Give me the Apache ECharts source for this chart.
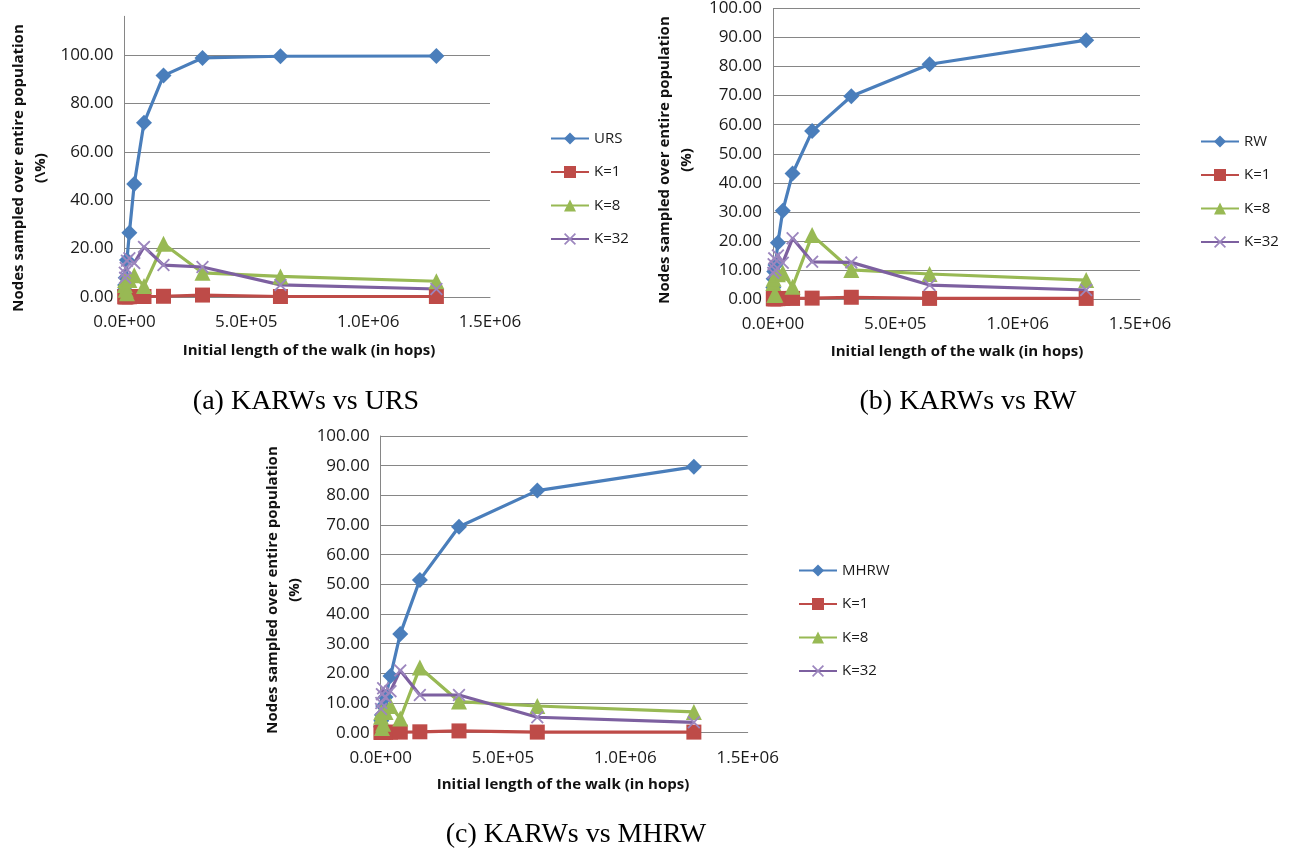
<!DOCTYPE html>
<html><head><meta charset="utf-8">
<script src="https://cdn.jsdelivr.net/npm/echarts@6/dist/echarts.min.js"></script>
<style>html,body{margin:0;padding:0;background:#fff;}#c{width:1290px;height:852px;}</style>
</head><body><div id="c"></div>
<script>
// ---- data ----
const walkLengths = [1250, 2500, 5000, 10000, 20000, 40000, 80000, 160000, 320000, 640000, 1280000];

// panel (a) KARWs vs URS
const ursA  = [3, 5, 8, 15.3, 26.5, 46.7, 72, 91.5, 98.8, 99.5, 99.6];
const k1A   = [0.1, 0.1, 0.1, 0.1, 0.1, 0.2, 0.2, 0.3, 0.8, 0.2, 0.2];
const k8A   = [5, 7, 3, 1.5, 7, 9, 4.5, 22, 10, 8.5, 6.5];
const k32A  = [10, 8, 12, 15, 16, 14, 20.7, 13.2, 12.4, 5, 3.3];

// panel (b) KARWs vs RW
const rwB   = [4, 7, 9.5, 11.7, 19.4, 30.4, 43.2, 57.8, 69.8, 80.8, 89.1];
const k1B   = [0.1, 0.1, 0.1, 0.1, 0.1, 0.2, 0.2, 0.3, 0.6, 0.2, 0.2];
const k8B   = [5.5, 7, 1.4, 1.5, 8.5, 9, 4.2, 22, 10, 8.6, 6.5];
const k32B  = [9, 12, 14, 10, 15, 12.5, 20.9, 12.8, 12.6, 4.8, 3.1];

// panel (c) KARWs vs MHRW
const mhrwC = [2, 4, 6, 9, 12, 19.1, 33.3, 51.5, 69.4, 81.6, 89.6];
const k1C   = [0.1, 0.1, 0.1, 0.1, 0.1, 0.2, 0.2, 0.3, 0.6, 0.2, 0.2];
const k8C   = [5.4, 7, 1.6, 3, 7, 9, 4.8, 22, 10.5, 9, 7];
const k32C  = [8, 10, 13, 15, 12, 14, 21, 12.7, 12.7, 5.2, 3.5];

const xTicks = [0, 500000, 1000000, 1500000];
const captions = ['(a) KARWs vs URS', '(b) KARWs vs RW', '(c) KARWs vs MHRW'];
const yTitle = 'Nodes sampled over entire population';
const xTitle = 'Initial length of the walk (in hops)';

// ---- styling ----
const C = {blue:'#4A7EBB', red:'#BE4B48', green:'#98B954', purple:'#7D60A0'};
const FONT = '"Open Sans", "Liberation Sans", sans-serif';
const CROSS = 'path://M0,1 L1,0 L5,4 L9,0 L10,1 L6,5 L10,9 L9,10 L5,6 L1,10 L0,9 L4,5 Z';

function sci(v){
  if (v === 0) return '0.0E+00';
  const e = Math.floor(Math.log10(v) + 1e-9);
  const m = v / Math.pow(10, e);
  return m.toFixed(1) + 'E+' + String(e).padStart(2, '0');
}
function pts(arr){ return walkLengths.map((x, i) => [x, arr[i]]); }

const grids = [
  {left:124.5, top:16.3, width:365.5, height:280.7},
  {left:773, top:8.3, width:367, height:290.7},
  {left:380.7, top:436, width:367, height:296.7}
];
const yMax = [116, 100, 100];
const yInt = [20, 10, 10];

const xAxes = grids.map((g, i) => ({
  type:'value', gridIndex:i, min:0, max:1500000, interval:500000,
  axisLine:{show:true, lineStyle:{color:'#868686', width:1}},
  axisTick:{show:false}, splitLine:{show:false},
  axisLabel:{formatter:sci, color:'#1a1a1a', fontFamily:FONT, fontSize:17, margin:17}
}));
const yAxes = grids.map((g, i) => ({
  type:'value', gridIndex:i, min:0, max:yMax[i], interval:yInt[i],
  axisLine:{show:true, lineStyle:{color:'#868686', width:1}},
  axisTick:{show:false},
  splitLine:{show:true, showMaxLine: i !== 0, lineStyle:{color:'#868686', width:1}},
  axisLabel:{formatter:v => v.toFixed(2), color:'#1a1a1a', fontFamily:FONT, fontSize:17, margin:11,
             showMaxLabel: i !== 0}
}));

const panelSets = [
  [['URS', ursA], ['K=1', k1A], ['K=8', k8A], ['K=32', k32A]],
  [['RW', rwB], ['K=1', k1B], ['K=8', k8B], ['K=32', k32B]],
  [['MHRW', mhrwC], ['K=1', k1C], ['K=8', k8C], ['K=32', k32C]]
];
const styles = [
  {color:C.blue, symbol:'diamond', size:16},
  {color:C.red, symbol:'rect', size:15},
  {color:C.green, symbol:'triangle', size:16},
  {color:C.purple, symbol:CROSS, size:13}
];
const series = [];
panelSets.forEach((set, p) => {
  set.forEach(([name, arr], k) => {
    const s = styles[k];
    series.push({
      type:'line', name, xAxisIndex:p, yAxisIndex:p, data:pts(arr),
      symbol:s.symbol, symbolSize:s.size, showAllSymbol:true,
      lineStyle:{color:s.color, width:3.2},
      itemStyle:{color: k === 3 ? '#9C86BE' : s.color, borderWidth:0},
      emphasis:{disabled:true}, animation:false
    });
  });
});

const legendPos = [{left:545, top:126}, {left:1195, top:129}, {left:793, top:558}];
const legends = panelSets.map((set, p) => ({
  orient:'vertical', left:legendPos[p].left, top:legendPos[p].top,
  itemWidth:38, itemHeight:15, itemGap:18.5,
  data:set.map(d => d[0]),
  textStyle:{fontFamily:FONT, fontSize:15, color:'#1a1a1a'},
  selectedMode:false
}));

const yTitlePos = [{x:30, y:168}, {x:676, y:160}, {x:284, y:590}];
const yTitleSub = ['(\\%)', '(%)', '(%)'];
const xTitlePos = [{x:309, y:351}, {x:957, y:352}, {x:563, y:785}];
const capPos = [{x:306, y:402}, {x:968, y:402}, {x:576, y:835}];
const graphic = [];
for (let p = 0; p < 3; p++) {
  graphic.push({type:'text', x:yTitlePos[p].x, y:yTitlePos[p].y, rotation:Math.PI/2,
    style:{text:yTitle + '\n' + yTitleSub[p], font:'bold 15px ' + FONT, fill:'#111',
      align:'center', verticalAlign:'middle', textAlign:'center', textVerticalAlign:'middle', lineHeight:22}});
  graphic.push({type:'text', x:xTitlePos[p].x, y:xTitlePos[p].y,
    style:{text:xTitle, font:'bold 15px ' + FONT, fill:'#111',
      align:'center', verticalAlign:'middle', textAlign:'center', textVerticalAlign:'middle'}});
  graphic.push({type:'text', x:capPos[p].x, y:capPos[p].y,
    style:{text:captions[p], font:'28px "Liberation Serif", "DejaVu Serif", serif', fill:'#000',
      align:'center', verticalAlign:'middle', textAlign:'center', textVerticalAlign:'middle'}});
}

const chart = echarts.init(document.getElementById('c'), null, {renderer:'canvas'});
chart.setOption({
  backgroundColor:'#fff', animation:false,
  grid:grids, xAxis:xAxes, yAxis:yAxes, series, legend:legends, graphic
});
</script></body></html>
